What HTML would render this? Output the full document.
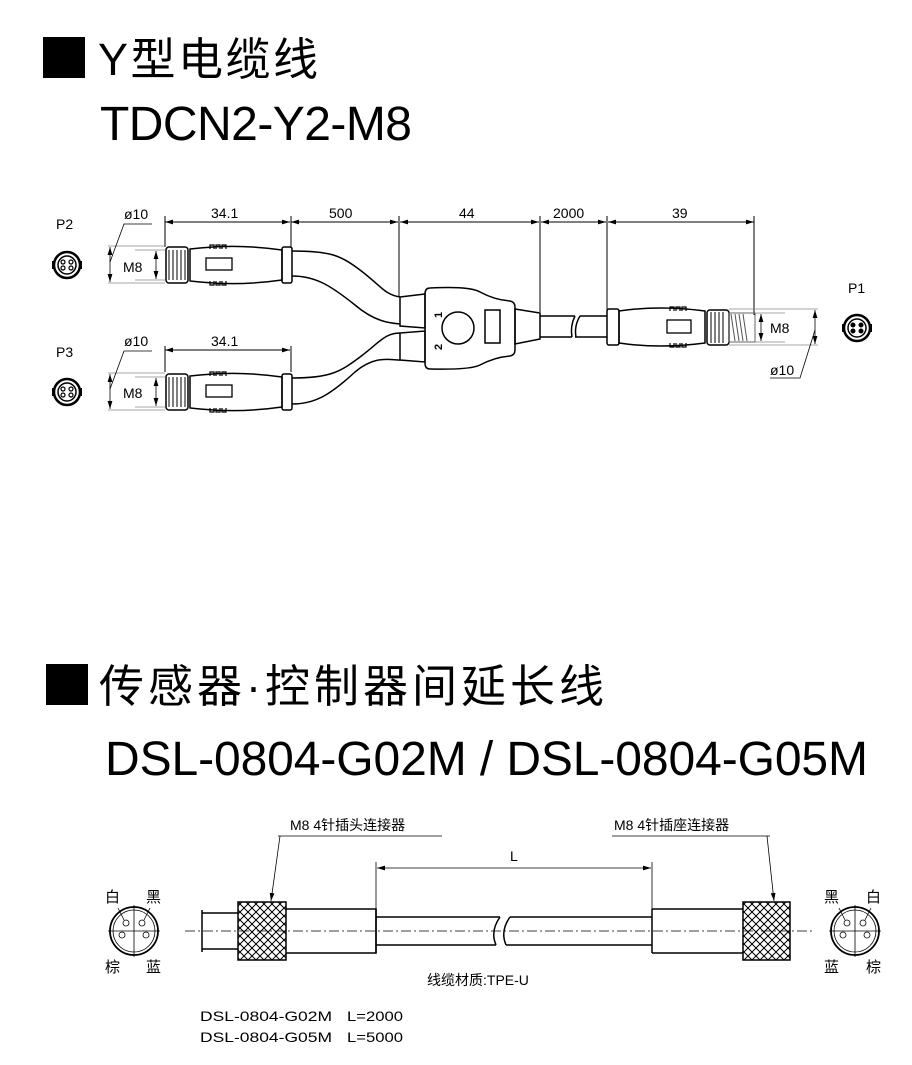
<!DOCTYPE html>
<html><head><meta charset="utf-8"><style>
html,body{margin:0;padding:0;background:#fff;}
svg{display:block;}
text{font-family:"Liberation Sans","Noto Sans CJK SC",sans-serif;fill:#000;}
</style></head><body>
<svg width="912" height="1065" viewBox="0 0 912 1065" xmlns="http://www.w3.org/2000/svg">
<defs>
<marker id="a" viewBox="0 0 10 6" refX="10" refY="3" markerWidth="8" markerHeight="5" orient="auto-start-reverse" markerUnits="userSpaceOnUse"><path d="M0,0L10,3L0,6z" fill="#000"/></marker>
<pattern id="k" width="8" height="8" patternUnits="userSpaceOnUse"><path d="M0,0L8,8M8,0L0,8" stroke="#000" stroke-width="1"/></pattern>
</defs>

<rect x="43" y="37" width="42" height="41" fill="#000"/>
<text x="98" y="75" font-size="45" letter-spacing="2.5">Y型电缆线</text>
<text x="100" y="140" font-size="48" textLength="312">TDCN2-Y2-M8</text>
<rect x="46" y="664" width="42" height="41" fill="#000"/>
<text x="99" y="702" font-size="45" letter-spacing="4">传感器·控制器间延长线</text>
<text x="105" y="775" font-size="48" textLength="763">DSL-0804-G02M / DSL-0804-G05M</text>

<g stroke="#000" fill="none" stroke-width="1">
<line x1="165" y1="222" x2="290" y2="222" marker-start="url(#a)" marker-end="url(#a)"/>
<line x1="291" y1="222" x2="398" y2="222" marker-start="url(#a)" marker-end="url(#a)"/>
<line x1="400" y1="222" x2="539" y2="222" marker-start="url(#a)" marker-end="url(#a)"/>
<line x1="541" y1="222" x2="606" y2="222" marker-start="url(#a)" marker-end="url(#a)"/>
<line x1="608" y1="222" x2="754" y2="222" marker-start="url(#a)" marker-end="url(#a)"/>
<line x1="165" y1="216" x2="165" y2="247"/>
<line x1="291" y1="216" x2="291" y2="247"/>
<line x1="399" y1="216" x2="399" y2="297"/>
<line x1="540" y1="216" x2="540" y2="312"/>
<line x1="607" y1="216" x2="607" y2="310"/>
<line x1="754" y1="216" x2="754" y2="315"/>
<line x1="165" y1="346" x2="165" y2="372"/>
<line x1="291" y1="346" x2="291" y2="372"/>
<line x1="165" y1="350" x2="290" y2="350" marker-start="url(#a)" marker-end="url(#a)"/>
</g>
<g font-size="14">
<text x="211" y="218">34.1</text><text x="329" y="218">500</text><text x="459" y="218">44</text>
<text x="553" y="218">2000</text><text x="672" y="218">39</text>
<text x="211" y="346">34.1</text>
<text x="56" y="229">P2</text><text x="56" y="357">P3</text><text x="848" y="293">P1</text>
<text x="124" y="219">ø10</text><text x="124" y="346">ø10</text><text x="770" y="375">ø10</text>
<text x="123" y="272">M8</text><text x="123" y="398">M8</text><text x="770" y="333">M8</text>
</g>

<g id="lc" stroke="#000" fill="none">
<line x1="108" y1="246" x2="165" y2="246" stroke="#888" stroke-width=".8"/>
<line x1="108" y1="283" x2="165" y2="283" stroke="#888" stroke-width=".8"/>
<line x1="135" y1="250" x2="165" y2="250" stroke="#888" stroke-width=".8"/>
<line x1="135" y1="280" x2="165" y2="280" stroke="#888" stroke-width=".8"/>
<line x1="110" y1="247" x2="110" y2="282" marker-start="url(#a)" marker-end="url(#a)" stroke-width=".8"/>
<line x1="156" y1="251" x2="156" y2="279" marker-start="url(#a)" marker-end="url(#a)" stroke-width=".8"/>
<polyline points="110,262 124,224 152,224" stroke-width=".8"/>
<rect x="166" y="247" width="22" height="36" rx="3" stroke-width="1.5"/>
<path d="M169,250v30M173,250v30M177,250v30M181,250v30M185,250v30" stroke-width="1"/>
<path d="M190,249 L200,248 Q240,244 282,250 L282,280 Q240,286 200,282 L190,281z" stroke-width="1.5"/>
<rect x="206" y="258" width="26" height="12" stroke-width="1.3"/>
<path d="M210,249v-4h4v4M216,249v-4h4v4M222,249v-4h4v4M210,281v4h4v-4M216,281v4h4v-4M222,281v4h4v-4" stroke-width="1.2"/>
<rect x="282" y="247" width="10" height="36" rx="2" stroke-width="1.5"/>
<circle cx="67" cy="265" r="13" stroke-width="2.5"/>
<circle cx="67" cy="265" r="9" stroke-width="1.5"/>
<circle cx="63" cy="262" r="2" stroke-width="1.2"/><circle cx="71" cy="262" r="2" stroke-width="1.2"/>
<circle cx="63" cy="268" r="2" stroke-width="1.2"/><circle cx="71" cy="268" r="2" stroke-width="1.2"/>
<path d="M53,261v8M81,261v8" stroke-width="2"/>
</g>
<use href="#lc" y="127"/>

<g stroke="#000" fill="none" stroke-width="1.5">
<path d="M292,251 C330,251 340,255 360,270 C380,285 385,295 400,297"/>
<path d="M292,276 C315,276 330,285 355,305 C375,322 390,323 400,324"/>
<path d="M292,378 C330,378 340,372 360,357 C380,342 385,333 400,333"/>
<path d="M292,404 C315,404 330,395 355,372 C375,355 390,360 400,360"/>
<path d="M400,297 L425,294 L425,328 L400,326z"/>
<path d="M400,333 L425,331 L425,362 L400,360z"/>
<path d="M430,288 Q470,286 480,292 Q495,300 510,301 Q515,302 515,307 L515,350 Q515,355 510,356 Q495,357 480,365 Q470,370 430,369 Q425,369 425,363 L425,294 Q425,288 430,288z"/>
<circle cx="458" cy="328" r="16"/>
<rect x="485" y="310" width="15" height="33"/>
<path d="M515,309 L540,313 L540,339 L515,344z"/>
<path d="M540,316 L575,316 M540,337 L572,337 M580,316 L607,316 M575,337 L607,337"/>
<path d="M575,316 Q570,326 572,337 M580,316 Q574,326 576,337"/>
<rect x="607" y="309" width="12" height="36" rx="2"/>
<path d="M619,311 Q660,305 705,311 L705,343 Q660,349 619,343z"/>
<rect x="667" y="320" width="24" height="13" stroke-width="1.3"/>
<path d="M670,311v-4h4v4M676,311v-4h4v4M682,311v-4h4v4M670,343v4h4v-4M676,343v4h4v-4M682,343v4h4v-4" stroke-width="1.2"/>
<rect x="707" y="310" width="22" height="35" rx="3"/>
<path d="M711,312v31M715,312v31M719,312v31M723,312v31" stroke-width="1"/>
<rect x="729" y="313" width="26" height="29" stroke="#666" stroke-width="1"/>
<path d="M731,314l4,27M735,314l4,27M739,314l4,27M743,314l4,27" stroke="#555" stroke-width="1"/>
</g>
<g stroke="#000" fill="none">
<text x="434" y="318" font-size="11" font-weight="bold" transform="rotate(-90 438 314)" stroke="none">1</text>
<text x="434" y="350" font-size="11" font-weight="bold" transform="rotate(-90 438 346)" stroke="none">2</text>
<line x1="729" y1="309" x2="818" y2="309" stroke="#888" stroke-width=".8"/>
<line x1="729" y1="345" x2="818" y2="345" stroke="#888" stroke-width=".8"/>
<line x1="755" y1="313" x2="785" y2="313" stroke="#888" stroke-width=".8"/>
<line x1="755" y1="342" x2="785" y2="342" stroke="#888" stroke-width=".8"/>
<line x1="761" y1="314" x2="761" y2="341" marker-start="url(#a)" marker-end="url(#a)" stroke-width=".8"/>
<line x1="815" y1="310" x2="815" y2="344" marker-start="url(#a)" marker-end="url(#a)" stroke-width=".8"/>
<polyline points="815,330 800,378 770,378" stroke-width=".8"/>
<circle cx="857" cy="328" r="13" stroke-width="2.5"/>
<circle cx="857" cy="328" r="9" stroke-width="1.5"/>
<circle cx="853" cy="325" r="2" fill="#000"/><circle cx="861" cy="325" r="2" fill="#000"/>
<circle cx="853" cy="331" r="2" fill="#000"/><circle cx="861" cy="331" r="2" fill="#000"/>
<path d="M843,324v8M871,324v8" stroke-width="2"/>
</g>

<g stroke="#000" fill="none" stroke-width="1.5">
<line x1="185" y1="931" x2="812" y2="931" stroke-width=".8" stroke-dasharray="10,3,2,3"/>
<path d="M202,910v42M202,913h36M202,949h36"/>
<rect x="238" y="902" width="48" height="58" fill="url(#k)"/>
<path d="M286,909h90v44h-90"/>
<path d="M376,917h124M376,945h120M376,909v44"/>
<path d="M500,917 Q490,931 496,945 M510,917 Q500,931 506,945"/>
<path d="M510,917h142M506,945h146M652,909v44"/>
<path d="M652,909h91M652,953h91"/>
<rect x="743" y="902" width="47" height="58" fill="url(#k)"/>
</g>
<g stroke="#000" fill="none" stroke-width=".8">
<line x1="376" y1="862" x2="376" y2="909"/><line x1="652" y1="862" x2="652" y2="909"/>
<line x1="377" y1="868" x2="651" y2="868" marker-start="url(#a)" marker-end="url(#a)"/>
<line x1="278" y1="836" x2="442" y2="836"/>
<line x1="280" y1="836" x2="271" y2="901" marker-end="url(#a)"/>
<line x1="612" y1="836" x2="770" y2="836"/>
<line x1="767" y1="836" x2="774" y2="901" marker-end="url(#a)"/>
<circle cx="134" cy="931" r="24" stroke-width="1.8"/><circle cx="134" cy="931" r="21"/>
<line x1="108" y1="931" x2="160" y2="931"/><line x1="134" y1="905" x2="134" y2="957"/>
<circle cx="126" cy="923" r="3"/><circle cx="142" cy="923" r="3"/>
<circle cx="122" cy="935" r="3"/><circle cx="146" cy="935" r="3"/>
<line x1="118" y1="908" x2="124" y2="920"/><line x1="150" y1="908" x2="144" y2="920"/>
<circle cx="855" cy="931" r="24" stroke-width="1.8"/><circle cx="855" cy="931" r="21"/>
<line x1="829" y1="931" x2="881" y2="931"/><line x1="855" y1="905" x2="855" y2="957"/>
<circle cx="847" cy="923" r="3"/><circle cx="863" cy="923" r="3"/>
<circle cx="843" cy="935" r="3"/><circle cx="867" cy="935" r="3"/>
<line x1="839" y1="908" x2="845" y2="920"/><line x1="871" y1="908" x2="865" y2="920"/>
</g>
<g font-size="14">
<text x="290" y="830">M8 4针插头连接器</text>
<text x="614" y="830">M8 4针插座连接器</text>
<text x="510" y="861">L</text>
<text x="105" y="902" font-size="15">白</text><text x="146" y="902" font-size="15">黑</text>
<text x="105" y="972" font-size="15">棕</text><text x="146" y="972" font-size="15">蓝</text>
<text x="824" y="902" font-size="15">黑</text><text x="866" y="902" font-size="15">白</text>
<text x="824" y="972" font-size="15">蓝</text><text x="866" y="972" font-size="15">棕</text>
<text x="427" y="985">线缆材质:TPE-U</text>
<text x="200" y="1021" font-size="14" textLength="132" lengthAdjust="spacingAndGlyphs">DSL-0804-G02M</text><text x="347" y="1021" font-size="14" textLength="56" lengthAdjust="spacingAndGlyphs">L=2000</text>
<text x="200" y="1042" font-size="14" textLength="132" lengthAdjust="spacingAndGlyphs">DSL-0804-G05M</text><text x="347" y="1042" font-size="14" textLength="56" lengthAdjust="spacingAndGlyphs">L=5000</text>
</g>
</svg>
</body></html>
